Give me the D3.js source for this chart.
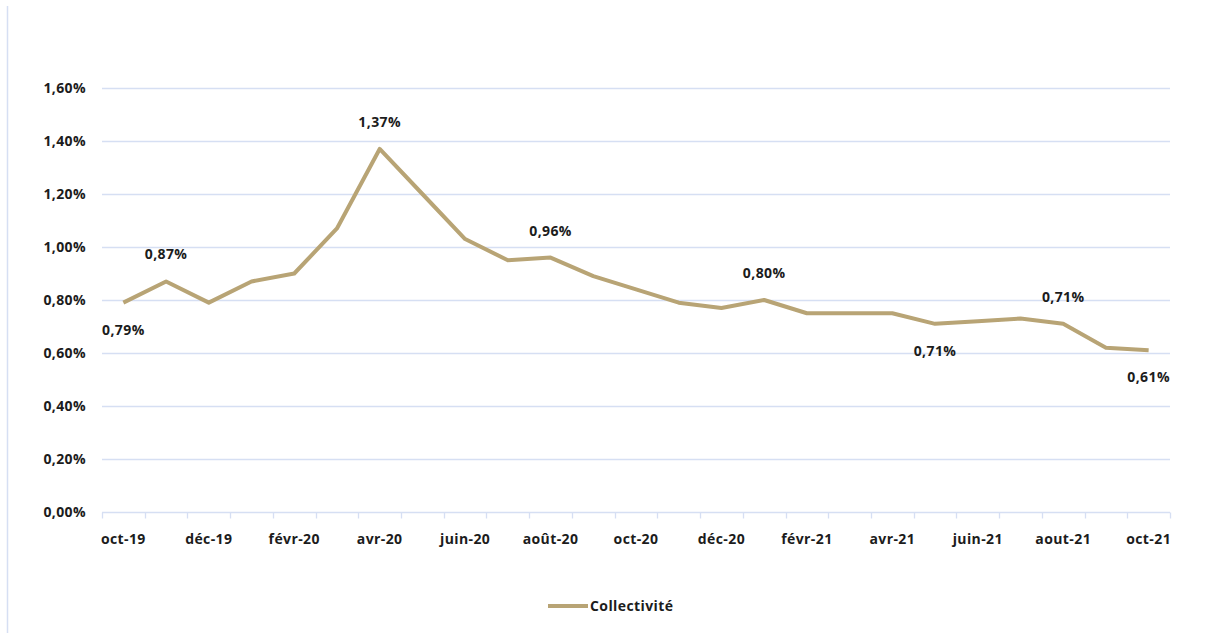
<!DOCTYPE html>
<html>
<head>
<meta charset="utf-8">
<script src="https://cdn.jsdelivr.net/npm/d3@7"></script>
<style>
  html, body { margin: 0; padding: 0; background: #fff; }
  svg text { font-family: "Open Sans", "Liberation Sans", sans-serif; font-weight: 700; fill: #1c1c1c; }
</style>
</head>
<body>
<svg id="chart" width="1211" height="633"></svg>
<script>
// Monthly series, oct-19 to oct-21
const months = ["oct-19","nov-19","déc-19","janv-20","févr-20","mars-20","avr-20","mai-20","juin-20","juil-20","août-20","sept-20","oct-20","nov-20","déc-20","janv-21","févr-21","mars-21","avr-21","mai-21","juin-21","juil-21","aout-21","sept-21","oct-21"];
const collectivite = [0.79,0.87,0.79,0.87,0.90,1.07,1.37,1.20,1.03,0.95,0.96,0.89,0.84,0.79,0.77,0.80,0.75,0.75,0.75,0.71,0.72,0.73,0.71,0.62,0.61];
const yTicks = [0,0.2,0.4,0.6,0.8,1.0,1.2,1.4,1.6];
const xTickLabels = ["oct-19","déc-19","févr-20","avr-20","juin-20","août-20","oct-20","déc-20","févr-21","avr-21","juin-21","aout-21","oct-21"];
// Months carrying a value label, and on which side of the line it sits
const labelled = ["oct-19","nov-19","avr-20","août-20","janv-21","mai-21","aout-21","oct-21"];
const labelSide = ["below","above","above","above","above","below","above","below"];
const seriesName = "Collectivité";

const svg = d3.select("#chart");
const lineColor = "#b8a475";
const gridColor = "#d6dff3";
const fontSize = 14;
const spacing = "0.4px";
const margin = {left: 102, right: 41, top: 88, bottom: 121};
const W = 1211, H = 633;

const x = d3.scaleBand().domain(months).range([margin.left, W - margin.right]).padding(0);
const y = d3.scaleLinear().domain([0, 1.6]).range([H - margin.bottom, margin.top]);
const fmt = v => d3.format(".2f")(v).replace(".", ",") + "%";

// outer frame edge on the left
svg.append("line").attr("x1", 7.5).attr("x2", 7.5).attr("y1", 6).attr("y2", 633)
  .attr("stroke", gridColor).attr("stroke-width", 1.5);

// horizontal gridlines
svg.append("g").selectAll("line").data(yTicks.filter(d => d > 0)).join("line")
  .attr("x1", margin.left).attr("x2", W - margin.right)
  .attr("y1", d => Math.round(y(d)) + 0.5).attr("y2", d => Math.round(y(d)) + 0.5)
  .attr("stroke", gridColor).attr("stroke-width", 1.3);

// y axis labels
const yAxis = d3.axisLeft(y).tickValues(yTicks).tickFormat(fmt).tickSize(0).tickPadding(16);
const gy = svg.append("g").attr("transform", `translate(${margin.left},0)`).call(yAxis);
gy.select(".domain").remove();
gy.selectAll("text").attr("font-size", fontSize).attr("letter-spacing", spacing)
  .style("font-family", "'Open Sans', sans-serif").style("font-weight", 700).attr("fill", "#1c1c1c");

// x axis: ticks on category boundaries, labels every other month
const baseY = Math.round(y(0)) + 0.5;
svg.append("line").attr("x1", margin.left).attr("x2", W - margin.right)
  .attr("y1", baseY).attr("y2", baseY).attr("stroke", gridColor).attr("stroke-width", 1.5);
const bounds = months.map(m => x(m)).concat([x(months[months.length - 1]) + x.bandwidth()]);
svg.append("g").selectAll("line").data(bounds).join("line")
  .attr("x1", d => Math.round(d) + 0.5).attr("x2", d => Math.round(d) + 0.5)
  .attr("y1", baseY).attr("y2", baseY + 6).attr("stroke", gridColor).attr("stroke-width", 1.3);
svg.append("g").selectAll("text").data(xTickLabels).join("text")
  .attr("x", d => x(d) + x.bandwidth() / 2).attr("y", baseY + 31)
  .attr("text-anchor", "middle").attr("font-size", fontSize).attr("letter-spacing", spacing)
  .text(d => d);

// the series line
const cx = m => x(m) + x.bandwidth() / 2;
const line = d3.line().x((d, i) => cx(months[i])).y(d => y(d));
svg.append("path").datum(collectivite).attr("d", line)
  .attr("fill", "none").attr("stroke", lineColor).attr("stroke-width", 4)
  .attr("stroke-linejoin", "round").attr("stroke-linecap", "butt");

// value labels
svg.append("g").selectAll("text").data(labelled).join("text")
  .attr("x", m => cx(m))
  .attr("y", (m, i) => y(collectivite[months.indexOf(m)]) + (labelSide[i] === "above" ? -27 : 27))
  .attr("dy", "0.35em").attr("text-anchor", "middle")
  .attr("font-size", fontSize).attr("letter-spacing", spacing)
  .text(m => fmt(collectivite[months.indexOf(m)]));

// legend
const lg = svg.append("g").attr("transform", "translate(548,606)");
lg.append("line").attr("x1", 0).attr("x2", 40).attr("y1", 0).attr("y2", 0)
  .attr("stroke", lineColor).attr("stroke-width", 4);
lg.append("text").attr("x", 42).attr("y", 0).attr("dy", "0.35em")
  .attr("font-size", fontSize).attr("letter-spacing", spacing).text(seriesName);
</script>
</body>
</html>
